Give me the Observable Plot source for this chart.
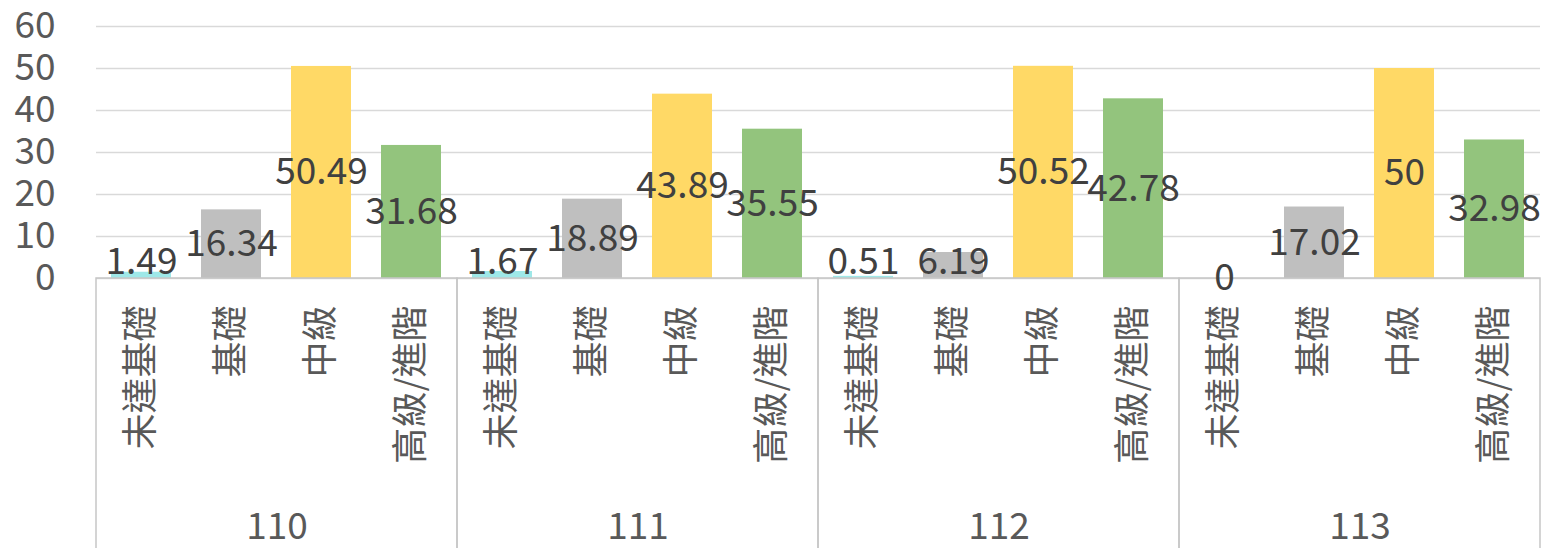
<!DOCTYPE html>
<html>
<head>
<meta charset="utf-8">
<script src="https://cdn.jsdelivr.net/npm/d3@7"></script>
<script src="https://cdn.jsdelivr.net/npm/@observablehq/plot@0.6"></script>
<style>
  html, body { margin: 0; padding: 0; background: #ffffff; }
  svg { display: block; }
</style>
</head>
<body>
<div id="chart"></div>
<script>
const years = ["110", "111", "112", "113"];
const categories = ["未達基礎", "基礎", "中級", "高級/進階"];
const values110 = [1.49, 16.34, 50.49, 31.68];
const values111 = [1.67, 18.89, 43.89, 35.55];
const values112 = [0.51, 6.19, 50.52, 42.78];
const values113 = [0, 17.02, 50, 32.98];
const colors = ["#9ee8e8", "#bfbfbf", "#ffd966", "#93c47d"];
const yTicks = [0, 10, 20, 30, 40, 50, 60];

const seriesByYear = [values110, values111, values112, values113];
const data = years.flatMap((yr, i) =>
  categories.map((cat, j) => ({ year: yr, category: cat, value: seriesByYear[i][j] }))
);

const font = "'Noto Sans CJK TC', 'Noto Sans', sans-serif";

const plot = Plot.plot({
  width: 1547,
  height: 548,
  marginLeft: 94,
  marginRight: 6,
  marginTop: 26,
  marginBottom: 270,
  style: { fontFamily: font, background: "#ffffff", overflow: "visible" },
  fx: { domain: years, padding: 0, axis: null, label: null },
  x: { domain: categories, paddingInner: 0.33, paddingOuter: 0.165, axis: null, label: null },
  y: { domain: [0, 60], axis: null, label: null },
  color: { domain: categories, range: colors },
  marks: [
    Plot.gridY(yTicks, { stroke: "#d9d9d9", strokeOpacity: 1, strokeWidth: 1.5 }),
    Plot.axisY({ ticks: yTicks, label: null, tickSize: 0, tickPadding: 41, fontSize: 37, fill: "#595959", tickFormat: d => String(d) }),
    Plot.barY(data, { fx: "year", x: "category", y: "value", fill: "category" }),
    Plot.rect(years, { fx: d => d, y1: 0, y2: 0, insetBottom: -280, fill: "none", stroke: "#c6c6c6", strokeWidth: 1.5 }),
    Plot.text(data, {
      fx: "year", x: "category",
      y: d => d.value === 0 ? 0 : Math.max(d.value / 2, 3.8),
      text: d => String(d.value),
      fontSize: 37, fill: "#404040"
    }),
    Plot.text(data, {
      fx: "year", x: "category", text: "category",
      frameAnchor: "bottom", rotate: -90, textAnchor: "end",
      dx: 11, dy: 27, fontSize: 36, fill: "#595959"
    }),
    Plot.text(years, {
      fx: d => d, text: d => d,
      frameAnchor: "bottom", dy: 260, fontSize: 37, fill: "#595959"
    })
  ]
});

document.getElementById("chart").appendChild(plot);
</script>
</body>
</html>
